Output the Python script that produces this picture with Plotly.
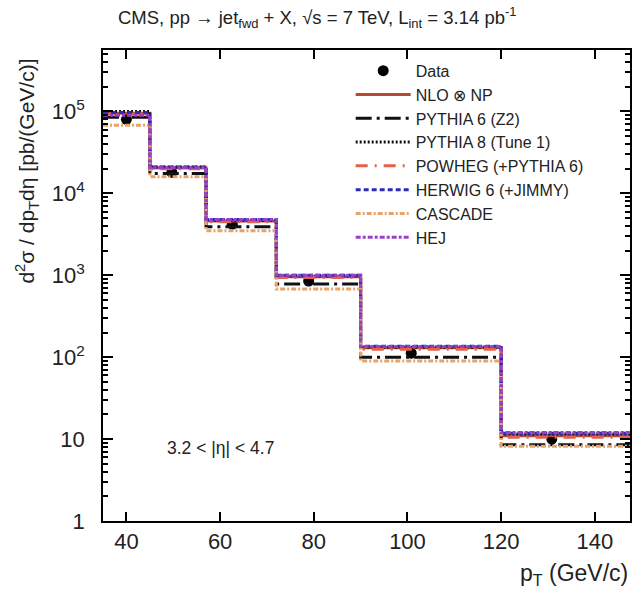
import plotly.graph_objects as go

# bin edges (GeV/c)
edges = [35, 45, 57, 72, 90, 120, 150]
# data points (mean pT of bin, cross-section)
data_x = [40.0, 49.7, 62.6, 78.9, 100.8, 130.8]
data_y = [8.0e4, 1.8e4, 4.2e3, 850, 112, 10.0]

nlo      = [9.5e4, 2.05e4, 4.6e3, 960, 130, 11.0]
pythia6  = [8.5e4, 1.75e4, 3.9e3, 780, 100, 8.5]
pythia8  = [1.0e5, 2.1e4, 4.7e3, 980, 132, 11.5]
powheg   = [9.3e4, 2.0e4, 4.5e3, 940, 125, 10.5]
herwig   = [9.7e4, 2.1e4, 4.8e3, 1000, 136, 11.8]
cascade  = [6.8e4, 1.6e4, 3.5e3, 680, 90, 8.2]
hej      = [9.0e4, 2.05e4, 4.8e3, 1000, 135, 12.0]

ytick_vals = [1, 10, 100, 1000, 1e4, 1e5]
ytick_text = ["1", "10", "10<sup>2</sup>", "10<sup>3</sup>", "10<sup>4</sup>", "10<sup>5</sup>"]
xtick_vals = [40, 60, 80, 100, 120, 140]
minor_y = [m * d for d in [1, 10, 100, 1000, 1e4, 1e5] for m in range(2, 10)]

FONT = "Liberation Sans, Arial, Helvetica, sans-serif"
YR = [0, 5.75]

fig = go.Figure()

fig.add_trace(go.Scatter(x=data_x, y=data_y, mode="markers", name="Data",
                         marker=dict(color="black", size=11, symbol="circle")))

models = [
    ("NLO ⊗ NP", nlo, "#b84a30", "solid"),
    ("PYTHIA 6 (Z2)", pythia6, "#111111", "16px,5px,3px,5px"),
    ("PYTHIA 8 (Tune 1)", pythia8, "#111111", "2px,2px"),
    ("POWHEG (+PYTHIA 6)", powheg, "#e8604a", "12px,7px,2px,7px"),
    ("HERWIG 6 (+JIMMY)", herwig, "#2a2ab8", "5px,3px"),
    ("CASCADE", cascade, "#e8a468", "5px,2px,2px,2px"),
    ("HEJ", hej, "#9a40c8", "5px,2px,3px,2px"),
]
for name, vals, col, dash in models:
    fig.add_trace(go.Scatter(x=edges, y=vals + [vals[-1]], mode="lines", name=name,
                             line=dict(color=col, width=3, dash=dash, shape="hv")))

# invisible trace on the overlay axis (long major ticks)
fig.add_trace(go.Scatter(x=[data_x[0]], y=[data_y[0]], yaxis="y2", mode="markers",
                         marker=dict(opacity=0), showlegend=False, hoverinfo="skip"))

all_y_vals = ytick_vals + minor_y
all_y_text = ytick_text + [""] * len(minor_y)

fig.update_layout(
    width=635, height=591,
    margin=dict(l=103, r=3, t=50, b=70),
    paper_bgcolor="white", plot_bgcolor="white",
    font=dict(family=FONT, color="#222222"),
    showlegend=True,
    legend=dict(x=0.47, y=0.992, xanchor="left", yanchor="top",
                bgcolor="rgba(255,255,255,0)", font=dict(size=16, family=FONT),
                itemwidth=55, traceorder="normal"),
    xaxis=dict(range=[35, 147.5], tickvals=xtick_vals, ticks="inside", ticklen=9,
               tickwidth=2, tickcolor="black",
               showline=True, linecolor="black", linewidth=1.5, mirror="ticks",
               showgrid=False, zeroline=False, tickfont=dict(size=22, family=FONT)),
    yaxis=dict(type="log", range=YR, tickmode="array", tickvals=all_y_vals, ticktext=all_y_text,
               ticks="inside", ticklen=5, tickwidth=1.5, tickcolor="black", showline=True,
               linecolor="black", linewidth=1.5, mirror="ticks", showgrid=False, zeroline=False,
               ticklabelstandoff=12, tickfont=dict(size=22, family=FONT)),
    yaxis2=dict(type="log", range=YR, overlaying="y", anchor="x", side="left",
                tickmode="array", tickvals=ytick_vals, ticktext=[""] * len(ytick_vals),
                ticks="inside", ticklen=10, tickwidth=2, tickcolor="black",
                showline=False, mirror="ticks", showgrid=False, zeroline=False),
    annotations=[
        dict(text="CMS, pp → jet<sub>fwd</sub> + X, √s = 7 TeV, L<sub>int</sub> = 3.14 pb<sup>-1</sup>",
             xref="paper", yref="paper", x=0.4055, y=1.0, yshift=17, xanchor="center", yanchor="bottom",
             showarrow=False, font=dict(size=18.5, family=FONT)),
        dict(text="d<sup>2</sup>σ / dp<sub>T</sub>dη [pb/(GeV/c)]", xref="paper", yref="paper",
             x=0, xshift=-76, y=0.985, yanchor="top", xanchor="center", textangle=-90,
             showarrow=False, font=dict(size=21, family=FONT)),
        dict(text="p<sub>T</sub> (GeV/c)", xref="paper", yref="paper", x=1.0, y=0, yshift=-37,
             xanchor="right", yanchor="top", showarrow=False, font=dict(size=23, family=FONT)),
        dict(text="3.2 < |η| < 4.7", xref="x", yref="paper", x=60, y=0.155,
             xanchor="center", yanchor="middle", showarrow=False, font=dict(size=17.5, family=FONT)),
    ],
)

fig.write_html("out.html")
